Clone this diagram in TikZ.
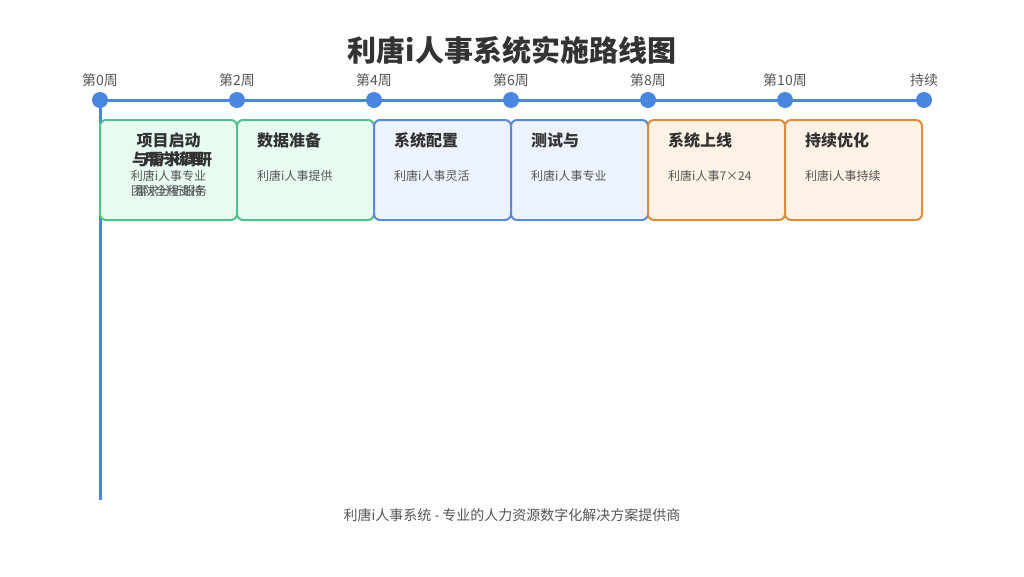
\documentclass[tikz,border=0pt]{standalone}
\usepackage{fontspec}
\setmainfont{Noto Sans CJK SC}
\definecolor{lineblue}{HTML}{4A86E0}
\definecolor{txtdark}{HTML}{333333}
\definecolor{txtgray}{HTML}{555555}
\definecolor{greenline}{HTML}{52C08E}
\definecolor{greenfill}{HTML}{E8FBF1}
\definecolor{blueline}{HTML}{5A8AD6}
\definecolor{bluefill}{HTML}{EDF3FE}
\definecolor{orangeline}{HTML}{DB8E3E}
\definecolor{orangefill}{HTML}{FEF2E6}
\tikzset{
  weeklabel/.style={text=txtgray,font=\fontsize{14}{16}\selectfont},
  milestone/.style={circle,fill=lineblue,inner sep=0pt,minimum size=16pt},
  phasebox/.style={draw=#1line,fill=#1fill,line width=2pt,rounded corners=6pt,
    minimum width=137pt,minimum height=100pt,inner sep=0pt},
  phasetitle/.style={text=txtdark,font=\bfseries\fontsize{16}{19}\selectfont,inner sep=0pt},
  phasedesc/.style={text=txtgray,font=\fontsize{12}{14}\selectfont,inner sep=0pt},
}
\begin{document}
\begin{tikzpicture}[x=1pt,y=-1pt]
\useasboundingbox[fill=white] (0,0) rectangle (1024,576);
\node[text=txtdark,font=\bfseries\fontsize{29}{33}\selectfont] (title) at (512,50) {利唐i人事系统实施路线图};
% time axis
\foreach \i/\x/\wk in {0/100/第0周,1/237/第2周,2/374/第4周,3/511/第6周,4/648/第8周,5/785/第10周,6/924/持续} {
  \node[weeklabel] (w\i) at (\x,80) {\wk};
}
\coordinate (axisend) at (100,500);
\draw[lineblue,line width=3pt] (100,100) -- (924,100);
\draw[lineblue,line width=3pt] (100,100) -- (axisend);
\foreach \i/\x in {0/100,1/237,2/374,3/511,4/648,5/785,6/924} {
  \node[milestone] (d\i) at (\x,100) {};
}
% phases
\foreach \i/\x/\c in {1/168.5/green,2/305.5/green,3/442.5/blue,4/579.5/blue,5/716.5/orange,6/853.5/orange} {
  \node[phasebox=\c] (p\i) at (\x,170) {};
}
\node[phasetitle] (t1) at (168.5,140) {项目启动};
\node[phasetitle] (t1a) at (172,159) {与需求调研};
\node[phasetitle,font=\bfseries\fontsize{15}{18}\selectfont] (t1b) at (174,159) {用户梳理};
\node[phasedesc] (s1) at (168.5,176) {利唐i人事专业};
\node[phasedesc] (s1a) at (167,191) {团队全程支持};
\node[phasedesc] (s1b) at (171,191) {需求分析服务};
\foreach \i/\x/\ttl/\dsc in {2/257/数据准备/利唐i人事提供,3/394/系统配置/利唐i人事灵活,4/531/测试与/利唐i人事专业,5/668/系统上线/利唐i人事7×24,6/805/持续优化/利唐i人事持续} {
  \node[phasetitle,anchor=west] (t\i) at (\x,140) {\ttl};
  \node[phasedesc,anchor=west] (s\i) at (\x,176) {\dsc};
}
\node[text=txtgray,font=\fontsize{14}{16}\selectfont] (footer) at (512,515) {利唐i人事系统 - 专业的人力资源数字化解决方案提供商};
\end{tikzpicture}
\end{document}
